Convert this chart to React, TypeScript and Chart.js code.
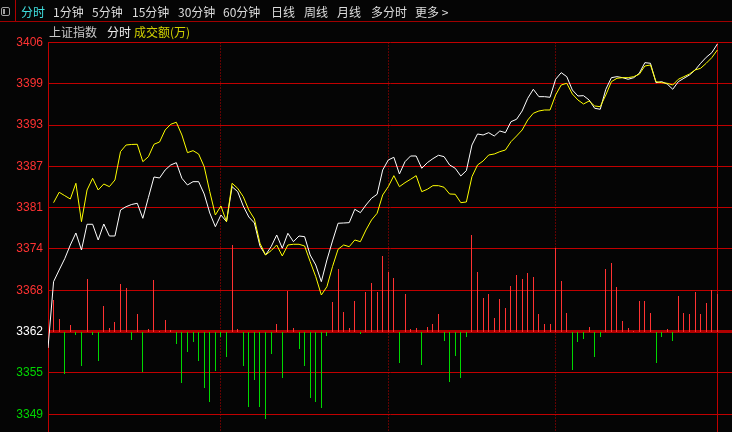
import React, { useEffect, useRef } from 'react';
import { Chart, registerables } from 'chart.js';

Chart.register(...registerables);

// ---- tab bar ----
const tabLabels = ['分时', '1分钟', '5分钟', '15分钟', '30分钟', '60分钟', '日线', '周线', '月线', '多分时', '更多 >'];
const tabLefts = [21, 53, 92, 132, 178, 223, 271, 304, 337, 371, 415];

// ---- axis ----
const yTickLabels = ['3349', '3355', '3362', '3368', '3374', '3381', '3387', '3393', '3399', '3406'];
const PREV_CLOSE = 3362;
const PRICE_STEP = 6.195;

// ---- data (2-minute samples; price line starts one slot before the first bar) ----
const priceLine = [
  3359.54,
  3369.49, 3371.24, 3372.94, 3374.99, 3376.79, 3374.24, 3378.10, 3378.10, 3375.74, 3378.14,
  3376.34, 3376.34, 3380.24, 3380.74, 3381.07, 3381.25, 3379.00, 3382.12, 3385.19, 3385.04,
  3386.24, 3386.99, 3387.34, 3385.00, 3383.99, 3384.49, 3384.49, 3382.64, 3379.79, 3377.74,
  3379.49, 3378.49, 3383.74, 3382.99, 3380.84, 3379.19, 3378.29, 3374.84, 3373.49, 3374.74,
  3376.49, 3374.50, 3376.75, 3375.49, 3376.34, 3376.24, 3373.49, 3371.99, 3369.49, 3372.74,
  3375.59, 3378.25, 3378.29, 3378.34, 3380.35, 3379.84, 3380.99, 3382.00, 3382.60, 3386.24,
  3387.74, 3388.15, 3385.64, 3387.49, 3388.34, 3388.34, 3386.50, 3387.34, 3387.94, 3388.45,
  3388.24, 3386.99, 3386.50, 3385.34, 3386.14, 3389.99, 3391.64, 3391.49, 3391.84, 3391.34,
  3392.09, 3391.84, 3393.49, 3393.85, 3395.09, 3397.00, 3398.35, 3397.24, 3397.24, 3397.15,
  3399.85, 3400.84, 3400.24, 3398.24, 3397.34, 3397.39, 3396.74, 3395.50, 3395.35, 3398.35,
  3400.09, 3400.24, 3400.09, 3399.85, 3400.09, 3400.75, 3402.34, 3402.25, 3399.34, 3399.49,
  3399.14, 3398.35, 3399.49, 3400.00, 3400.49, 3401.24, 3402.25, 3403.15, 3403.84, 3405.14,
];

const avgLine = [
  3381.34, 3382.90, 3382.39, 3381.89, 3384.25, 3378.49, 3383.24, 3385.00, 3383.24, 3384.14,
  3383.74, 3384.74, 3389.00, 3389.99, 3390.07, 3390.10, 3387.49, 3388.24, 3390.10, 3390.44,
  3392.24, 3393.10, 3393.40, 3391.49, 3388.84, 3389.14, 3388.64, 3386.74, 3382.99, 3379.49,
  3380.84, 3378.49, 3384.25, 3383.50, 3382.24, 3380.24, 3378.89, 3375.25, 3373.49, 3374.14,
  3374.99, 3373.34, 3374.99, 3375.10, 3375.10, 3374.84, 3372.49, 3370.24, 3367.49, 3368.74,
  3371.74, 3374.35, 3374.99, 3374.74, 3375.74, 3375.49, 3377.24, 3378.74, 3379.75, 3382.49,
  3383.74, 3385.39, 3383.74, 3384.34, 3384.85, 3385.39, 3382.99, 3383.35, 3383.89, 3383.89,
  3383.65, 3382.64, 3382.60, 3381.34, 3381.44, 3385.24, 3386.99, 3387.59, 3388.49, 3388.64,
  3388.99, 3389.24, 3390.49, 3391.34, 3392.24, 3393.74, 3394.75, 3395.09, 3395.24, 3395.24,
  3397.49, 3398.99, 3399.25, 3397.64, 3396.74, 3396.14, 3396.59, 3395.84, 3395.74, 3397.49,
  3399.49, 3400.00, 3400.09, 3400.09, 3400.24, 3400.60, 3401.84, 3401.99, 3399.49, 3399.34,
  3399.25, 3398.99, 3399.85, 3400.24, 3400.64, 3401.24, 3401.50, 3402.25, 3403.09, 3404.24,
];

const strengthBars = [
  32, 13, -42, 7, -3, -34, 53, -3, -29, 26,
  4, 10, 48, 44, -8, 18, -40, 3, 52, 1,
  12, 2, -12, -51, -20, -10, -29, -56, -70, -39,
  -5, -25, 87, 3, -34, -75, -48, -75, -87, -22,
  8, -46, 41, 4, -17, -34, -66, -70, -76, -4,
  30, 63, 20, 4, 31, -2, 40, 49, 40, 76,
  60, 54, -31, 38, 3, 4, -33, 5, 8, 18,
  -9, -50, -24, -46, -5, 97, 60, 34, 38, 14,
  33, 24, 46, 57, 53, 59, 55, 18, 8, 8,
  84, 51, 19, -38, -10, -7, 5, -25, -5, 63,
  69, 45, 11, 4, 1, 31, 31, 19, -31, -5,
  3, -9, 36, 19, 18, 40, 18, 29, 42, 38,
];

const sessionMarks = [30, 60, 90];
const LAST_SLOT = 119;

// ---- styles ----
const BG = '#050505';
const GRID = '#c00000';
const CENTER_GRID = '#b00000';
const RED = '#ff3232';
const GREEN = '#00d800';
const WHITE_LINE = '#ffffff';
const YELLOW_LINE = '#ffff00';

const X_MIN = -1;
const X_MAX = 121.62;
const Y_MAX = PREV_CLOSE + 7 * PRICE_STEP;
const Y_MIN = PREV_CLOSE - 2.431 * PRICE_STEP;
const VSTEP = 41.3;

const verticalLines = {
  id: 'verticalLines',
  beforeDatasetsDraw(chart: any) {
    const { ctx, chartArea } = chart;
    const xs = chart.scales.x;
    ctx.save();
    ctx.strokeStyle = GRID;
    ctx.lineWidth = 1;
    ctx.setLineDash([1, 2]);
    for (const v of sessionMarks) {
      const px = Math.floor(xs.getPixelForValue(v)) + 0.5;
      ctx.beginPath();
      ctx.moveTo(px, chartArea.top);
      ctx.lineTo(px, chartArea.bottom);
      ctx.stroke();
    }
    ctx.setLineDash([]);
    const pe = Math.floor(xs.getPixelForValue(LAST_SLOT)) + 0.5;
    ctx.beginPath();
    ctx.moveTo(pe, chartArea.top);
    ctx.lineTo(pe, chartArea.bottom);
    ctx.stroke();

    // crisp 1px strength bars, positioned by the bar dataset's elements
    const meta = chart.getDatasetMeta(2);
    meta.data.forEach((el: any, i: number) => {
      const { x, y, base } = el.getProps(['x', 'y', 'base'], true);
      const left = Math.floor(x);
      const top = Math.round(Math.min(y, base));
      const bottom = Math.round(Math.max(y, base));
      ctx.fillStyle = strengthBars[i] >= 0 ? RED : GREEN;
      ctx.fillRect(left, top, 1, Math.max(1, bottom - top));
    });
    ctx.restore();
  },
};

export default function App() {
  const ref = useRef<HTMLCanvasElement>(null);

  useEffect(() => {
    const canvas = ref.current;
    if (!canvas) return;
    const chart = new Chart(canvas, {
      type: 'line',
      data: {
        datasets: [
          {
            type: 'line',
            data: avgLine.map((v, i) => ({ x: i, y: v })),
            borderColor: YELLOW_LINE,
            borderWidth: 1,
            pointRadius: 0,
            tension: 0,
            yAxisID: 'y',
          },
          {
            type: 'line',
            data: priceLine.map((v, i) => ({ x: i - 1, y: v })),
            borderColor: WHITE_LINE,
            borderWidth: 1,
            pointRadius: 0,
            tension: 0,
            yAxisID: 'y',
          },
          {
            type: 'bar',
            data: strengthBars.map((v, i) => ({ x: i, y: v })),
            backgroundColor: 'rgba(0,0,0,0)',
            barThickness: 1,
            grouped: false,
            yAxisID: 'yv',
          } as any,
        ],
      },
      options: {
        animation: false,
        responsive: false,
        devicePixelRatio: 1,
        events: [],
        layout: { padding: { top: 42.5, left: 0, right: 0, bottom: 0 } },
        plugins: { legend: { display: false }, tooltip: { enabled: false } },
        scales: {
          x: {
            type: 'linear',
            min: X_MIN,
            max: X_MAX,
            offset: false,
            display: false,
            grid: { offset: false },
          },
          y: {
            type: 'linear',
            position: 'left',
            min: Y_MIN,
            max: Y_MAX,
            afterFit: (s: any) => {
              s.width = 48;
              s.paddingTop = 0;
              s.paddingBottom = 0;
            },
            afterBuildTicks: (s: any) => {
              s.ticks = yTickLabels.map((_, k) => ({ value: PREV_CLOSE + (k - 2) * PRICE_STEP }));
            },
            ticks: {
              autoSkip: false,
              padding: 5,
              font: { family: '"Liberation Sans", Arial, sans-serif', size: 12 },
              color: (ctx: any) => (ctx.index > 2 ? RED : ctx.index === 2 ? '#ffffff' : GREEN),
              callback: (_v: any, i: number) => yTickLabels[i],
            },
            grid: {
              drawTicks: false,
              color: (ctx: any) => (ctx.index === 2 ? CENTER_GRID : GRID),
              lineWidth: (ctx: any) => (ctx.index === 2 ? 3 : 1),
            },
            border: { display: true, color: GRID, width: 1 },
          },
          yv: {
            type: 'linear',
            display: false,
            beginAtZero: false,
            min: -2.431 * VSTEP,
            max: 7 * VSTEP,
          },
        },
      } as any,
      plugins: [verticalLines],
    });
    return () => chart.destroy();
  }, []);

  const textBase: React.CSSProperties = {
    position: 'absolute',
    fontFamily: '"Noto Sans CJK SC", sans-serif',
    fontSize: 12,
    lineHeight: '12px',
    whiteSpace: 'nowrap',
  };

  return (
    <div
      style={{
        position: 'fixed',
        left: 0,
        top: 0,
        width: 732,
        height: 432,
        background: BG,
        overflow: 'hidden',
      }}
    >
      <canvas
        ref={ref}
        width={732}
        height={432}
        style={{ position: 'absolute', left: 0, top: 0, width: 732, height: 432 }}
      />
      {/* tab bar */}
      <div
        style={{
          position: 'absolute',
          left: 1,
          top: 7,
          width: 7,
          height: 7,
          border: '1px solid #a0a0a0',
          borderRadius: 2,
        }}
      >
        <div style={{ position: 'absolute', left: 1, top: 1, width: 2, height: 5, background: '#a0a0a0' }} />
      </div>
      <div style={{ position: 'absolute', left: 15, top: 0, width: 1, height: 21, background: '#b00000' }} />
      <div style={{ position: 'absolute', left: 0, top: 21, width: 732, height: 1, background: '#a00000' }} />
      {tabLabels.map((t, i) => (
        <div key={t} style={{ ...textBase, left: tabLefts[i], top: 6, color: i === 0 ? '#40e0e0' : '#dcdcdc' }}>
          {t}
        </div>
      ))}
      {/* title row */}
      <div style={{ ...textBase, left: 49, top: 26, color: '#c8c8c8' }}>上证指数</div>
      <div style={{ ...textBase, left: 107, top: 26, color: '#f0f0f0' }}>分时</div>
      <div style={{ ...textBase, left: 134, top: 26, color: '#d2d200' }}>成交额(万)</div>
    </div>
  );
}
